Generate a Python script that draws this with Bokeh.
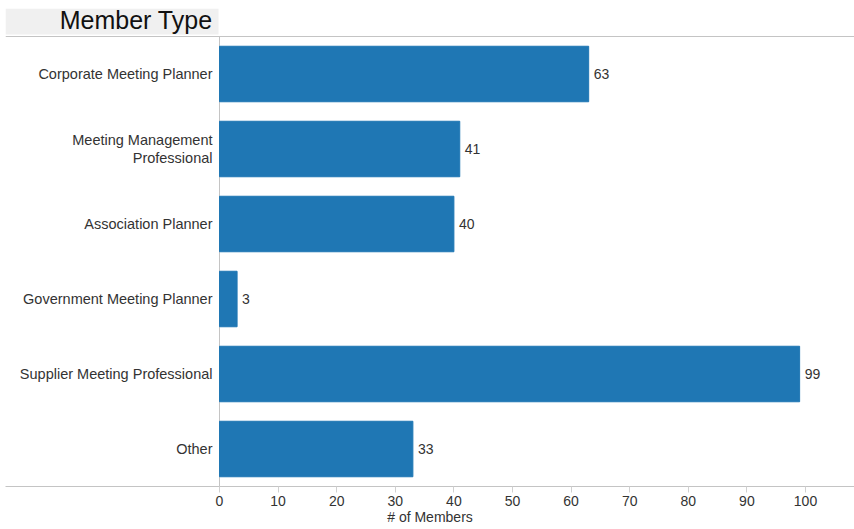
from bokeh.plotting import figure
from bokeh.models import Range1d, Span, LinearAxis, FixedTicker, ColumnDataSource
from bokeh.core.properties import value
from bokeh.embed import file_html
from bokeh.resources import INLINE

categories = ["Corporate Meeting Planner", "Meeting Management\nProfessional", "Association Planner",
              "Government Meeting Planner", "Supplier Meeting Professional", "Other"]
members = [63, 41, 40, 3, 99, 33]
x_ticks = [0, 10, 20, 30, 40, 50, 60, 70, 80, 90, 100]
title_text = "Member Type"
x_label = "# of Members"

FONT = "Liberation Sans"
TXT = "#333333"
LINE = "#c4c4c4"
BLUE = "#1f77b4"

n = len(categories)
ypos = list(range(n))

# layout (pixels)
W, H = 854, 529
FRAME_L, FRAME_T, FRAME_B = 5, 8, 43
ZERO_PX = 219           # screen x of value 0
PX_PER_UNIT = 5.86
BAND_PX = 75.0
HEADER_PX = 28

x_start = -(ZERO_PX - FRAME_L) / PX_PER_UNIT
x_end = (W - ZERO_PX) / PX_PER_UNIT
y_top = -0.5 - HEADER_PX / BAND_PX

src = ColumnDataSource(dict(y=ypos, cat=categories, val=members, lbl=[str(v) for v in members],
                            zero=[0] * n))

p = figure(width=W, height=H, output_backend="svg", toolbar_location=None,
           y_range=Range1d(n - 0.5, y_top),
           x_range=Range1d(x_start, x_end),
           x_axis_location=None, y_axis_location=None,
           min_border_left=FRAME_L, min_border_right=0, min_border_top=FRAME_T, min_border_bottom=FRAME_B)
p.outline_line_color = None
p.xgrid.visible = False
p.ygrid.visible = False
p.background_fill_color = "white"
p.border_fill_color = "white"

# header box
p.quad(left=[x_start], right=[-1 / PX_PER_UNIT], bottom=[-0.5 - 2 / BAND_PX], top=[y_top],
       fill_color="#f0f0f0", line_color=None)
p.text(x=[0], y=[-0.5], text=[title_text], x_offset=-7, y_offset=-3, text_align="right",
       text_baseline="bottom", text_font=value(FONT), text_font_size="25px", text_color="#111111")

p.add_layout(Span(location=-0.5, dimension="width", line_color=LINE, line_width=1))
p.segment(x0=[0], y0=[-0.5], x1=[0], y1=[n - 0.5], line_color=LINE, line_width=1)

p.hbar(y="y", left="zero", right="val", height=0.74, color=BLUE, source=src)

p.text(x="val", y="y", text="lbl", source=src, x_offset=5, text_align="left", text_baseline="middle",
       text_font=value(FONT), text_font_size="14px", text_color=TXT)
p.text(x="zero", y="y", text="cat", source=src, x_offset=-7, text_align="right", text_baseline="middle",
       text_font=value(FONT), text_font_size="14.5px", text_color=TXT, text_line_height=1.1)

xa = LinearAxis(ticker=FixedTicker(ticks=x_ticks), axis_label=x_label)
xa.axis_line_color = LINE
xa.major_tick_line_color = "#d0d0d0"
xa.major_tick_out = 6
xa.major_tick_in = 0
xa.minor_tick_line_color = None
xa.major_label_text_font = FONT
xa.major_label_text_font_size = "14px"
xa.major_label_text_color = TXT
xa.major_label_standoff = 3
xa.axis_label_text_font = FONT
xa.axis_label_text_font_size = "14px"
xa.axis_label_text_font_style = "normal"
xa.axis_label_text_color = TXT
xa.axis_label_standoff = 0
p.add_layout(xa, "below")

open("out.html", "w").write(file_html(p, INLINE))
